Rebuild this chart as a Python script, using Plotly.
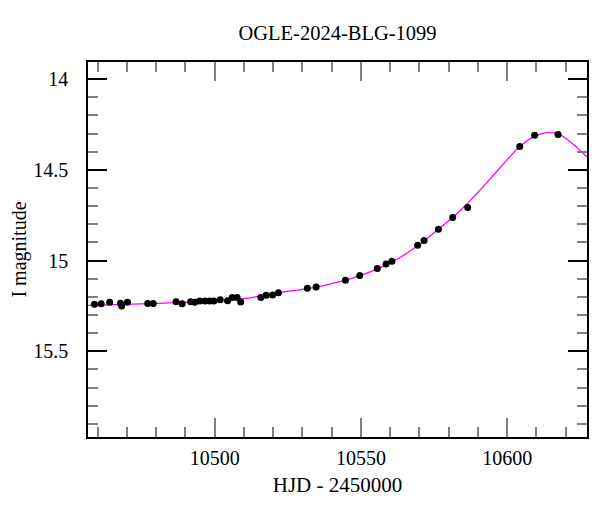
import plotly.graph_objects as go

# Observed photometry (HJD - 2450000, I magnitude)
obs_hjd = [10458.9, 10461.2, 10464.1, 10467.8, 10468.2, 10470.2, 10477.1, 10479.0,
           10486.8, 10488.9, 10491.8, 10493.2, 10494.9, 10496.7, 10498.3, 10499.7,
           10501.9, 10504.4, 10506.0, 10507.7, 10508.9, 10515.8, 10517.6, 10519.8,
           10521.8, 10531.7, 10534.7, 10544.7, 10549.6, 10555.6, 10558.6, 10560.6,
           10569.4, 10571.6, 10576.5, 10581.4, 10586.5, 10604.3, 10609.4, 10617.4]
obs_mag = [15.241, 15.238, 15.230, 15.235, 15.250, 15.230, 15.236, 15.236,
           15.227, 15.238, 15.227, 15.229, 15.223, 15.223, 15.223, 15.223,
           15.216, 15.222, 15.204, 15.204, 15.228, 15.204, 15.191, 15.190,
           15.177, 15.153, 15.146, 15.109, 15.082, 15.044, 15.019, 15.004,
           14.916, 14.889, 14.828, 14.763, 14.707, 14.371, 14.310, 14.305]

# Model curve samples
model_hjd = [10456.7, 10478.1, 10500.2, 10512.2, 10522.4, 10532.7, 10542.9, 10549.8,
             10556.6, 10563.4, 10570.2, 10577.0, 10583.8, 10590.7, 10597.5, 10604.3,
             10609.5, 10613.9, 10618.0, 10623.1, 10627.2]
model_mag = [15.247, 15.237, 15.222, 15.205, 15.175, 15.152, 15.116, 15.083,
             15.039, 14.983, 14.909, 14.821, 14.727, 14.612, 14.490, 14.372,
             14.314, 14.295, 14.306, 14.366, 14.428]

title_text = "OGLE-2024-BLG-1099"
x_title = "HJD - 2450000"
y_title = "I magnitude"

FONT = "Liberation Serif"
FS = 20

fig = go.Figure()
fig.add_trace(go.Scatter(x=model_hjd, y=model_mag, mode="lines",
                         line=dict(color="#ff00ff", width=1.3, shape="spline", smoothing=0.8),
                         hoverinfo="skip", showlegend=False))
fig.add_trace(go.Scatter(x=obs_hjd, y=obs_mag, mode="markers",
                         marker=dict(color="black", size=7),
                         showlegend=False))

fig.update_layout(
    width=600, height=512,
    margin=dict(l=80, r=21, t=54, b=83),
    plot_bgcolor="white", paper_bgcolor="white",
    font=dict(family=FONT, size=FS, color="black"),
    title=dict(text=title_text, x=0.5, xref="paper", xanchor="center",
               y=1 - 25 / 512, yref="container", yanchor="middle",
               font=dict(family=FONT, size=20.5, color="black")),
)
fig.update_xaxes(
    range=[10456.7, 10627.3], showgrid=False, zeroline=False, automargin=False,
    showline=True, linecolor="black", linewidth=1.5, mirror="allticks",
    ticks="inside", tickmode="linear", tick0=10500, dtick=50, tickformat="d",
    ticklen=19, tickwidth=1.5, tickcolor="#808080",
    minor=dict(ticks="inside", dtick=10, tick0=10500, ticklen=10, tickwidth=1.5, tickcolor="#808080"),
    title=dict(text=x_title, standoff=10, font=dict(size=21)),
    tickfont=dict(size=FS), ticklabelstandoff=2,
)
fig.update_yaxes(
    range=[15.972, 13.906], showgrid=False, zeroline=False, automargin=False,
    showline=True, linecolor="black", linewidth=1.5, mirror="allticks",
    ticks="inside", tickmode="linear", tick0=14, dtick=0.5,
    ticklen=19, tickwidth=1.5, tickcolor="black",
    minor=dict(ticks="inside", dtick=0.1, tick0=14, ticklen=10, tickwidth=1.5, tickcolor="#808080"),
    title=dict(text=y_title, standoff=10, font=dict(size=FS)),
    tickfont=dict(size=FS), ticklabelstandoff=14,
)

fig.write_html("out.html")
